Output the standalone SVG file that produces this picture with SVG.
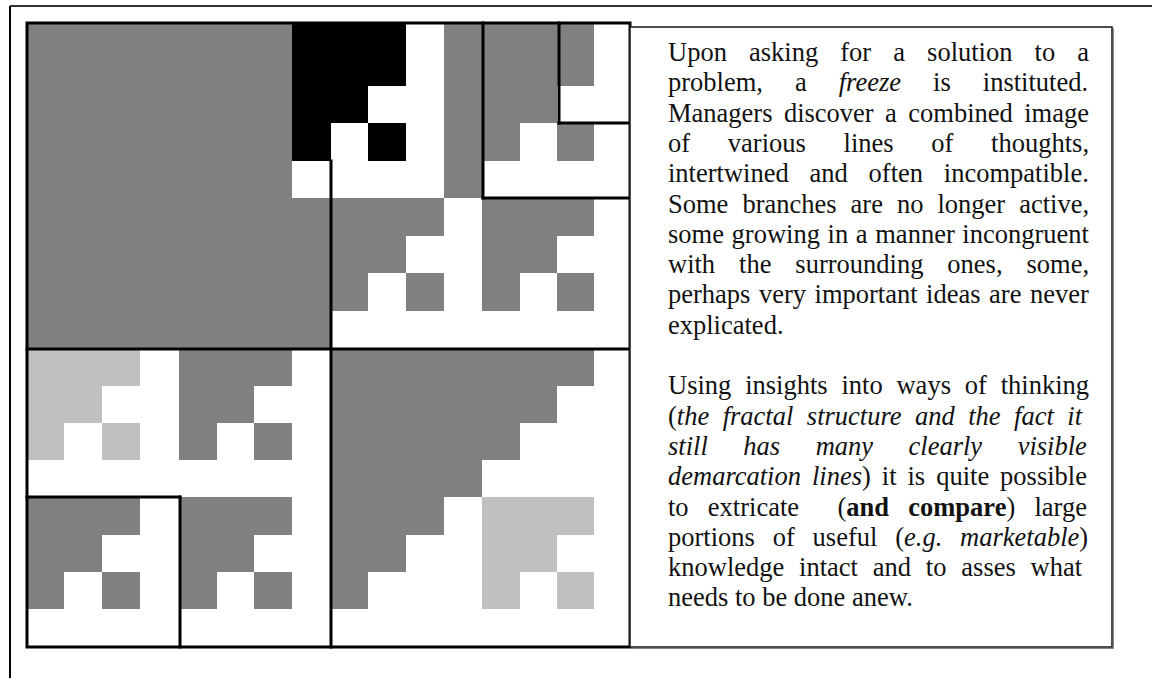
<svg xmlns="http://www.w3.org/2000/svg" width="1152" height="678" viewBox="0 0 1152 678">
<style>
.g{fill:#808080}
.l{fill:#c0c0c0}
.b{fill:#000}
.ln{stroke:#000;stroke-width:3;fill:none;stroke-linecap:square}
.t{font-family:"Liberation Serif","Times New Roman",serif;font-size:26.5px;fill:#111}
.i{font-style:italic}
.bd{font-weight:bold}
</style>
<rect x="0" y="0" width="1152" height="678" fill="#fff"/>
<g id="frame">
<line x1="10" y1="6" x2="1152" y2="6" stroke="#333" stroke-width="2"/>
<line x1="10" y1="6" x2="10" y2="678" stroke="#000" stroke-width="2"/>
</g>
<g id="grid">
<rect x="28" y="23" width="602" height="624" fill="#fff"/>
<rect class="g" x="28" y="23" width="264" height="175"/>
<rect class="g" x="28" y="198" width="303" height="151"/>
<rect class="b" x="292" y="23" width="114" height="63"/>
<rect class="b" x="292" y="86" width="76" height="37"/>
<rect class="b" x="292" y="123" width="39" height="38"/>
<rect class="b" x="368" y="123" width="38" height="38"/>
<rect class="g" x="444" y="23" width="38" height="175"/>
<rect class="g" x="482" y="23" width="112" height="63"/>
<rect class="g" x="482" y="86" width="75" height="37"/>
<rect class="g" x="482" y="123" width="38" height="38"/>
<rect class="g" x="557" y="123" width="37" height="38"/>
<rect class="g" x="331" y="198" width="113" height="38"/>
<rect class="g" x="482" y="198" width="112" height="38"/>
<rect class="g" x="331" y="236" width="75" height="37"/>
<rect class="g" x="482" y="236" width="75" height="37"/>
<rect class="g" x="331" y="273" width="37" height="38"/>
<rect class="g" x="406" y="273" width="38" height="38"/>
<rect class="g" x="482" y="273" width="38" height="38"/>
<rect class="g" x="557" y="273" width="37" height="38"/>
<rect class="l" x="28" y="349" width="112" height="37"/>
<rect class="l" x="28" y="386" width="74" height="37"/>
<rect class="l" x="28" y="423" width="36" height="37"/>
<rect class="l" x="102" y="423" width="38" height="37"/>
<rect class="g" x="179" y="349" width="113" height="37"/>
<rect class="g" x="179" y="386" width="75" height="37"/>
<rect class="g" x="179" y="423" width="38" height="37"/>
<rect class="g" x="254" y="423" width="38" height="37"/>
<rect class="g" x="28" y="497" width="112" height="38"/>
<rect class="g" x="28" y="535" width="74" height="37"/>
<rect class="g" x="28" y="572" width="36" height="37"/>
<rect class="g" x="102" y="572" width="38" height="37"/>
<rect class="g" x="179" y="497" width="113" height="38"/>
<rect class="g" x="179" y="535" width="75" height="37"/>
<rect class="g" x="179" y="572" width="38" height="37"/>
<rect class="g" x="254" y="572" width="38" height="37"/>
<rect class="g" x="331" y="349" width="263" height="37"/>
<rect class="g" x="331" y="386" width="226" height="37"/>
<rect class="g" x="331" y="423" width="189" height="37"/>
<rect class="g" x="331" y="460" width="151" height="37"/>
<rect class="g" x="331" y="497" width="113" height="38"/>
<rect class="g" x="331" y="535" width="75" height="37"/>
<rect class="g" x="331" y="572" width="37" height="37"/>
<rect class="l" x="482" y="497" width="112" height="38"/>
<rect class="l" x="482" y="535" width="75" height="37"/>
<rect class="l" x="482" y="572" width="38" height="37"/>
<rect class="l" x="557" y="572" width="37" height="37"/>
</g>
<g id="grid-lines">
<rect class="ln" x="27" y="23" width="603" height="624"/>
<line class="ln" x1="27" y1="349" x2="630" y2="349"/>
<line class="ln" x1="331" y1="161" x2="331" y2="647"/>
<line class="ln" x1="483" y1="23" x2="483" y2="198"/>
<line class="ln" x1="483" y1="198" x2="630" y2="198"/>
<line class="ln" x1="559" y1="23" x2="559" y2="123"/>
<line class="ln" x1="559" y1="123" x2="630" y2="123"/>
<line class="ln" x1="27" y1="497" x2="180" y2="497"/>
<line class="ln" x1="180" y1="497" x2="180" y2="647"/>
</g>
<g id="textbox">
<rect x="630" y="27" width="482" height="620" fill="#fff" stroke="#222" stroke-width="1.6"/>
<line x1="1113.5" y1="28" x2="1113.5" y2="648.5" stroke="#888" stroke-width="1"/>
<line x1="631" y1="648.5" x2="1114" y2="648.5" stroke="#888" stroke-width="1"/>
<text class="t" x="668" y="61" word-spacing="15.46">Upon asking for a solution to a</text>
<text class="t" x="668" y="91.3" word-spacing="25.4">problem, a <tspan class="i">freeze</tspan> is instituted.</text>
<text class="t" x="668" y="121.6" word-spacing="4.8">Managers discover a combined image</text>
<text class="t" x="668" y="151.9" word-spacing="31.1">of various lines of thoughts,</text>
<text class="t" x="668" y="182.2" word-spacing="14.2">intertwined and often incompatible.</text>
<text class="t" x="668" y="212.5" word-spacing="7.4">Some branches are no longer active,</text>
<text class="t" x="668" y="242.8" word-spacing="1.03">some growing in a manner incongruent</text>
<text class="t" x="668" y="273.1" word-spacing="17.3">with the surrounding ones, some,</text>
<text class="t" x="668" y="303.4" word-spacing="1.9">perhaps very important ideas are never</text>
<text class="t" x="668" y="333.7">explicated.</text>
<text class="t" x="668" y="394.3" word-spacing="7.2">Using insights into ways of thinking</text>
<text class="t" x="668" y="424.6" word-spacing="6.85">(<tspan class="i">the fractal structure and the fact it</tspan></text>
<text class="t i" x="668" y="454.9" word-spacing="28.9">still has many clearly visible</text>
<text class="t" x="668" y="485.2" word-spacing="4.35"><tspan class="i">demarcation lines</tspan>) it is quite possible</text>
<text class="t" x="668" y="515.5" word-spacing="12.6" xml:space="preserve">to extricate  (<tspan class="bd">and compare</tspan>) large</text>
<text class="t" x="668" y="545.8" word-spacing="11.2">portions of useful (<tspan class="i">e.g. marketable</tspan>)</text>
<text class="t" x="668" y="576.1" word-spacing="8.2">knowledge intact and to asses what</text>
<text class="t" x="668" y="606.4">needs to be done anew.</text>
</g>
</svg>
